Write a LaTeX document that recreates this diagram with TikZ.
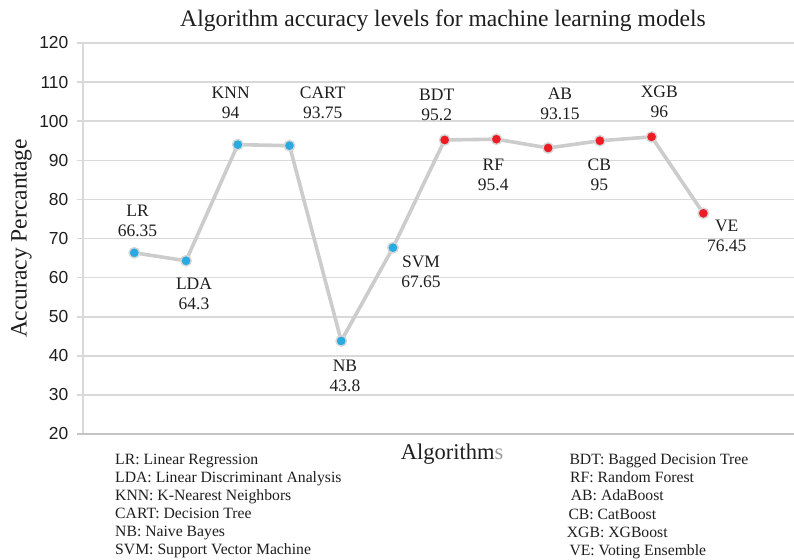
\documentclass[tikz,border=0pt]{standalone}
\usepackage{fontspec}
\setmainfont{Liberation Serif}
\newfontfamily\axisfont{Liberation Sans}
\definecolor{gridgray}{HTML}{D9D9D9}
\definecolor{axisgray}{HTML}{C4C4C4}
\definecolor{linegray}{HTML}{CCCCCC}
\definecolor{ptblue}{HTML}{29ABE2}
\definecolor{ptred}{HTML}{ED1C24}
\definecolor{ptborder}{HTML}{D6D6D6}
\definecolor{txt}{HTML}{1E1E1E}
\definecolor{sgray}{HTML}{9A9A9A}
\begin{document}
\begin{tikzpicture}[x=1pt,y=-1pt,
  gridline/.style={draw=gridgray,line width=1.6pt},
  axisline/.style={draw=axisgray,line width=2.2pt},
  dataline/.style={draw=linegray,line width=3.6pt,line join=round,line cap=round},
  mk/.style={circle,draw=ptborder,line width=1.4pt,inner sep=0pt,minimum size=10.5pt},
  lbl/.style={align=center,inner sep=0pt,text=txt,font=\fontsize{17.5}{20}\selectfont},
  tick/.style={anchor=east,inner sep=0pt,text=txt,font=\axisfont\fontsize{17.4}{20}\selectfont},
  leg/.style={anchor=base west,inner sep=0pt,text=txt,font=\fontsize{15.7}{18}\selectfont}]
\useasboundingbox (0,0) rectangle (794,559);
% title
\node[anchor=base,inner sep=0pt,text=txt,font=\fontsize{23.6}{26}\selectfont] (title) at (443,26.7) {Algorithm accuracy levels for machine learning models};
% grid
\foreach \v in {30,40,...,120} \draw[gridline] (77,{43+(120-\v)*3.91}) -- (794,{43+(120-\v)*3.91});
\draw[gridline] (82.7,43) -- (82.7,434);
\draw[axisline] (77,434) -- (794,434);
% tick labels
\foreach \v in {20,30,...,120} \node[tick] (t\v) at (68.5,{43+(120-\v)*3.91}) {\v};
% axis titles
\node[rotate=90,anchor=base,inner sep=0pt,text=txt,font=\fontsize{23.5}{26}\selectfont] (ylab) at (26.7,238.5) {Accuracy Percantage};
\node[anchor=base west,inner sep=0pt,text=txt,font=\fontsize{22.5}{26}\selectfont] (xlab) at (400.7,459) {Algorithm\textcolor{sgray}{s}};
% data
\foreach \v [count=\i from 0] in {66.35,64.3,94,93.75,43.8,67.65,95.2,95.4,93.15,95,96,76.45}
  \coordinate (c\i) at ({134.3+51.73*\i},{43+(120-\v)*3.91});
\draw[dataline] (c0) \foreach \i in {1,...,11}{ -- (c\i)};
\foreach \i in {0,...,5} \node[mk,fill=ptblue] (m\i) at (c\i) {};
\foreach \i in {6,...,11} \node[mk,fill=ptred] (m\i) at (c\i) {};
% point labels
\node[lbl] (l0) at (137.5,220.7) {LR\\66.35};
\node[lbl] (l1) at (194,294) {LDA\\64.3};
\node[lbl] (l2) at (230.7,102.7) {KNN\\94};
\node[lbl] (l3) at (322.7,102.7) {CART\\93.75};
\node[lbl] (l4) at (345,376) {NB\\43.8};
\node[lbl] (l5) at (421,271.8) {SVM\\67.65};
\node[lbl] (l6) at (436.7,105) {BDT\\95.2};
\node[lbl] (l7) at (493.3,175) {RF\\95.4};
\node[lbl] (l8) at (560,104.3) {AB\\93.15};
\node[lbl] (l9) at (599.3,175) {CB\\95};
\node[lbl] (l10) at (659.3,102.2) {XGB\\96};
\node[lbl] (l11) at (726.7,236) {VE\\76.45};
% legends
\node[leg] (a1) at (115,464.2) {LR: Linear Regression};
\node[leg] (a2) at (115,482.3) {LDA: Linear Discriminant Analysis};
\node[leg] (a3) at (115,500.4) {KNN: K-Nearest Neighbors};
\node[leg] (a4) at (115,518.5) {CART: Decision Tree};
\node[leg] (a5) at (115,536.6) {NB: Naive Bayes};
\node[leg] (a6) at (115,554.7) {SVM: Support Vector Machine};
\node[leg] (b1) at (569.3,464.7) {BDT: Bagged Decision Tree};
\node[leg] (b2) at (570,482.8) {RF: Random Forest};
\node[leg] (b3) at (570.7,500.9) {AB: AdaBoost};
\node[leg] (b4) at (568.3,519) {CB: CatBoost};
\node[leg] (b5) at (566.7,537.1) {XGB: XGBoost};
\node[leg] (b6) at (569.3,555.2) {VE: Voting Ensemble};
\end{tikzpicture}
\end{document}
